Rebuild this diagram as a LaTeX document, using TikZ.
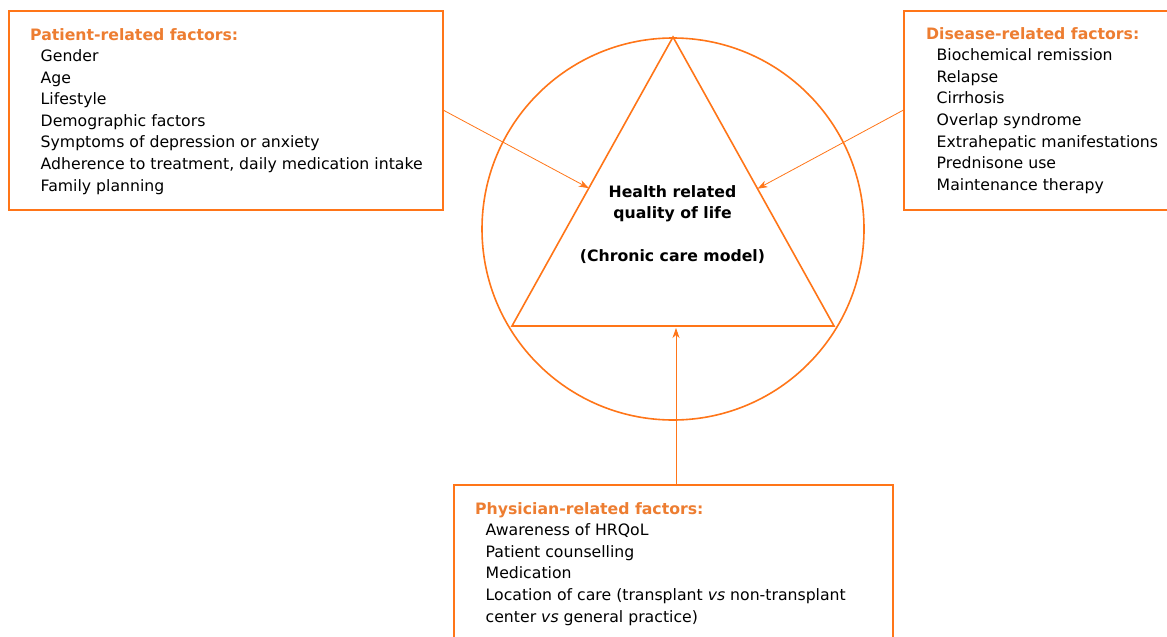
\documentclass[tikz,border=0pt]{standalone}
\usepackage{fontspec}
\setmainfont{DejaVu Sans}
\usetikzlibrary{arrows.meta,calc,positioning}

\definecolor{lineorange}{RGB}{255,117,24}
\definecolor{headorange}{RGB}{237,125,49}

\tikzset{
  factorbox/.style={rectangle, draw=lineorange, line width=1.6pt, inner sep=0pt, anchor=north west},
  factortext/.style={anchor=base west, inner sep=0pt, font=\fontsize{15.7}{21.6}\selectfont},
  feed/.style={draw=lineorange, line width=0.8pt, -{Stealth[length=10pt,width=7pt,inset=3pt]}},
}
\newcommand{\factorhead}[1]{\textcolor{headorange}{\bfseries #1}}
\newcommand{\fitem}{\hspace*{10.5pt}}

\begin{document}
\begin{tikzpicture}[x=1pt,y=-1pt]
  \useasboundingbox (0,0) rectangle (1167,637);
  \clip (0,0) rectangle (1167,637);
%% model in the middle
  \node (hrql) [circle, draw=lineorange, line width=1.6pt, minimum size=382pt, inner sep=0pt] at (673,229) {};
  \coordinate (apex) at (673,37);
  \coordinate (bl) at (512,326);
  \coordinate (br) at (834,326);
  \draw [lineorange, line width=1.6pt, line join=miter] (apex) -- (bl) -- (br) -- cycle;
  \node (hrqltext) [anchor=base, inner sep=0pt, font=\fontsize{15.7}{21.6}\selectfont\bfseries] at (672.5,197)
    {\begin{tabular}[t]{@{}c@{}}Health related\\ quality of life\\[0pt] \\ (Chronic care model)\end{tabular}};
%% factor boxes
  \node (patient) [factorbox, minimum width=434pt, minimum height=199pt] at (8,10) {};
  \node (patienttext) [factortext] at (30,40)
    {\begin{tabular}[t]{@{}l@{}}\factorhead{Patient-related factors:}\\
     \fitem Gender\\ \fitem Age\\ \fitem Lifestyle\\ \fitem Demographic factors\\
     \fitem Symptoms of depression or anxiety\\
     \fitem Adherence to treatment, daily medication intake\\
     \fitem Family planning\end{tabular}};
  \node (disease) [factorbox, minimum width=280pt, minimum height=199pt] at (903,10) {};
  \node (diseasetext) [factortext] at (926,39)
    {\begin{tabular}[t]{@{}l@{}}\factorhead{Disease-related factors:}\\
     \fitem Biochemical remission\\ \fitem Relapse\\ \fitem Cirrhosis\\
     \fitem Overlap syndrome\\ \fitem Extrahepatic manifestations\\
     \fitem Prednisone use\\ \fitem Maintenance therapy\end{tabular}};
  \node (physician) [factorbox, minimum width=439pt, minimum height=170pt] at (453,484) {};
  \node (physiciantext) [factortext] at (475,514)
    {\begin{tabular}[t]{@{}l@{}}\factorhead{Physician-related factors:}\\
     \fitem Awareness of HRQoL\\ \fitem Patient counselling\\ \fitem Medication\\
     \fitem Location of care (transplant \textit{vs} non-transplant\\
     \fitem center \textit{vs} general practice)\end{tabular}};
%% arrows into the triangle
  \coordinate (tipL) at ($(apex)!0.523!(bl)$);
  \coordinate (tipR) at ($(apex)!0.525!(br)$);
  \coordinate (tipB) at (676,328);
  \draw [feed] (patient.east) -- (tipL);
  \draw [feed] (disease.west) -- (tipR);
  \draw [feed] (physician.north -| tipB) -- (tipB);
\end{tikzpicture}
\end{document}
